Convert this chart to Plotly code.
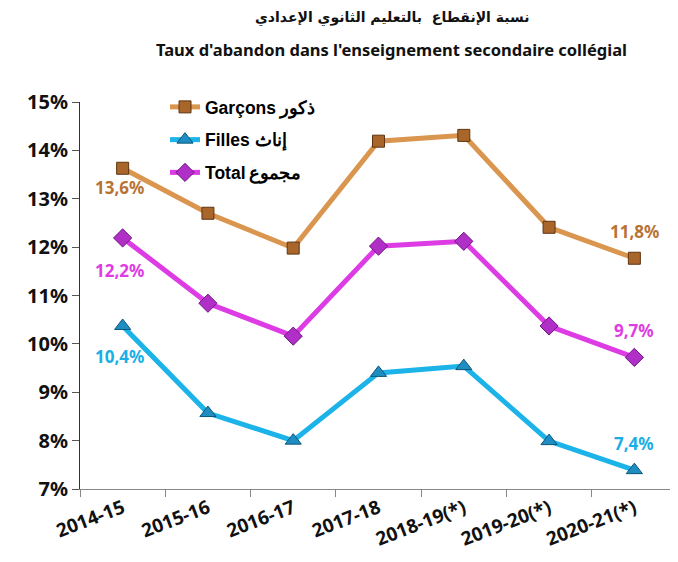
import plotly.graph_objects as go

years = ["2014-15", "2015-16", "2016-17", "2017-18", "2018-19(*)", "2019-20(*)", "2020-21(*)"]
garcons = [13.63, 12.70, 11.98, 14.19, 14.31, 12.41, 11.77]
filles = [10.37, 8.57, 8.00, 9.40, 9.54, 7.99, 7.39]
total = [12.19, 10.84, 10.16, 12.02, 12.12, 10.37, 9.72]
y_ticks = [7, 8, 9, 10, 11, 12, 13, 14, 15]

names = ["Garçons\u2009ذكور", "Filles إناث", "Total\u2009مجموع"]
series = [garcons, filles, total]
line_colors = ["#DA954E", "#1BB3E8", "#DD3CE5"]
marker_fill = ["#A9662B", "#1E8EC2", "#B02FC6"]
marker_edge = ["#5E3510", "#0C5578", "#6E1580"]
symbols = ["square", "triangle-up", "diamond"]
msizes = [12, 14, 14]
label_colors = ["#B87333", "#1AAEE6", "#E03CE3"]

font_main = "Noto Sans, DejaVu Sans, sans-serif"

# page body has an 8px margin: figure placed at (8, 8) in the window
PL, PR, PT, PB = 80, 677, 102, 489  # plot box in window pixels (reference)
OFF = 8
W, H = 670, 554

def px_x(px):
    return (px - PL) / (PR - PL)

def px_y(py):
    return (PB - py) / (PB - PT)

fig = go.Figure()
for i, (nm, vals) in enumerate(zip(names, series)):
    fig.add_trace(go.Scatter(
        x=years, y=[v / 100 for v in vals], name=nm, mode="lines+markers",
        legendgroup=f"g{i}",
        line=dict(color=line_colors[i], width=5),
        marker=dict(symbol=symbols[i], size=msizes[i], color=marker_fill[i],
                    line=dict(color=marker_edge[i], width=1)),
    ))

def fmt(v):
    return f"{v:.1f}".replace(".", ",") + "%"

annots = []
first_shift = [-19, -31, -33]
for i, vals in enumerate(series):
    annots.append(dict(x=years[0], y=vals[0] / 100, xref="x", yref="y",
                       text=fmt(vals[0]), showarrow=False, yshift=first_shift[i], xshift=-3,
                       font=dict(family=font_main, size=17, color=label_colors[i], weight="bold")))
    annots.append(dict(x=years[-1], y=vals[-1] / 100, xref="x", yref="y",
                       text=fmt(vals[-1]), showarrow=False, yshift=27,
                       font=dict(family=font_main, size=17, color=label_colors[i], weight="bold")))

annots.append(dict(x=px_x(392), y=px_y(18), xref="paper", yref="paper",
                   xanchor="center", yanchor="middle", showarrow=False,
                   text="<b>نسبة الإنقطاع  بالتعليم الثانوي الإعدادي</b>",
                   font=dict(family="DejaVu Sans, sans-serif", size=14, color="#111")))
annots.append(dict(x=px_x(391), y=px_y(50), xref="paper", yref="paper",
                   xanchor="center", yanchor="middle", showarrow=False,
                   text="<b>Taux d'abandon dans l'enseignement secondaire collégial</b>",
                   font=dict(family=font_main, size=16.5, color="#111")))

fig.update_layout(
    width=W, height=H,
    margin=dict(l=PL - OFF, r=W - (PR - OFF), t=PT - OFF, b=H - (PB - OFF)),
    paper_bgcolor="white", plot_bgcolor="white",
    showlegend=True,
    legend=dict(x=px_x(165), y=px_y(89), xanchor="left", yanchor="top", bgcolor="rgba(0,0,0,0)",
                tracegroupgap=7, font=dict(family="Liberation Sans, Arial, sans-serif", size=17.5, color="#000", weight="bold")),
    xaxis=dict(type="category", tickson="boundaries", ticks="outside", ticklen=7, tickcolor="#888",
               showline=True, linecolor="#888", linewidth=1, showgrid=False, tickangle=-21,
               automargin=False,
               tickfont=dict(family=font_main, size=19, color="#111", weight="bold"), range=[-0.5, 6.5]),
    yaxis=dict(range=[0.07, 0.15], tickvals=[t / 100 for t in y_ticks], tickformat=".0%",
               ticks="outside", ticklen=7, tickcolor="#555", showline=True, linecolor="#333", linewidth=1,
               showgrid=False, zeroline=False, automargin=False,
               tickfont=dict(family=font_main, size=20, color="#111", weight="bold")),
    annotations=annots,
)

fig.write_html("out.html")
